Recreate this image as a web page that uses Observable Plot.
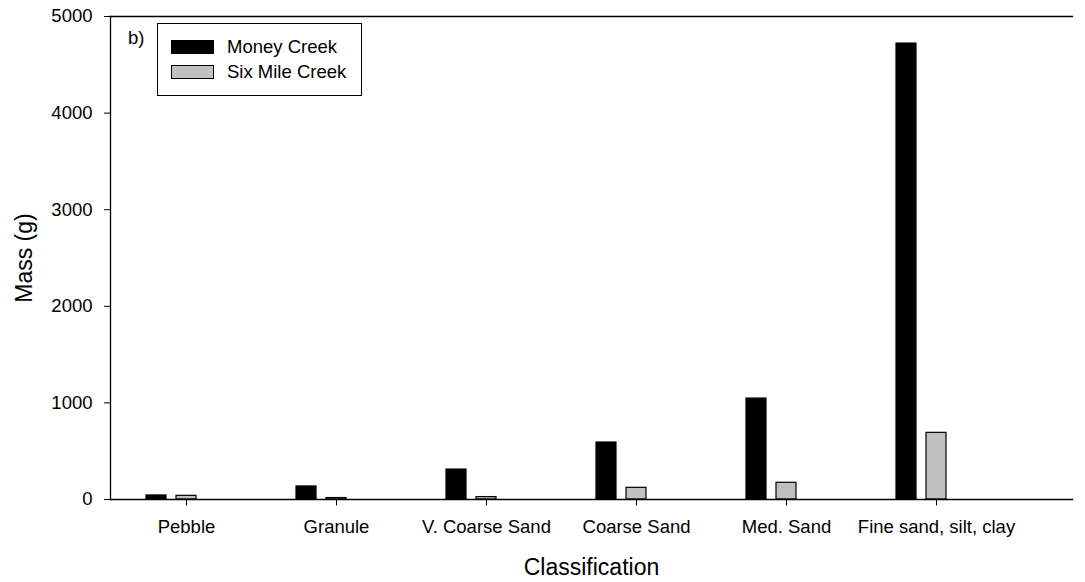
<!DOCTYPE html>
<html>
<head>
<meta charset="utf-8">
<script src="https://cdn.jsdelivr.net/npm/d3@7"></script>
<script src="https://cdn.jsdelivr.net/npm/@observablehq/plot@0.6"></script>
<style>
  html, body { margin: 0; padding: 0; background: #fff; }
  #wrap { position: relative; width: 1085px; height: 582px; font-family: "Liberation Sans", Arial, sans-serif; }
  #legend { position: absolute; left: 157px; top: 23px; width: 203px; height: 71px; border: 1.4px solid #000; background: #fff; }
  .row { position: absolute; left: 13px; height: 16px; display: flex; align-items: center; font-size: 18.5px; color: #000; white-space: nowrap; }
  .sw { width: 41px; height: 12px; border: 1.3px solid #000; margin-right: 13px; }
  #tag { position: absolute; left: 128px; top: 27px; font-size: 18.5px; color: #000; }
</style>
</head>
<body>
<div id="wrap"></div>
<script>
const categories = ["Pebble", "Granule", "V. Coarse Sand", "Coarse Sand", "Med. Sand", "Fine sand, silt, clay"];
const moneyCreek = [42, 135, 310, 590, 1045, 4720];
const sixMileCreek = [38, 15, 25, 121, 173, 690];
const seriesNames = ["Money Creek", "Six Mile Creek"];
const seriesFill = ["#000000", "#c0c0c0"];
const yTicks = [0, 1000, 2000, 3000, 4000, 5000];

// five slots per category: gap, Money Creek, Six Mile Creek, empty, gap
const slotNames = ["a", "M", "S", "b", "c"];
const slots = categories.flatMap(c => slotNames.map(s => c + "|" + s));
const rows = [];
categories.forEach((c, i) => {
  rows.push({key: c + "|M", series: seriesNames[0], value: moneyCreek[i]});
  rows.push({key: c + "|S", series: seriesNames[1], value: sixMileCreek[i]});
});
const tickKeys = categories.map(c => c + "|S");

const left = 109.8, step = 30.08;
const chart = Plot.plot({
  width: 1085,
  height: 582,
  marginLeft: 110,
  marginRight: 13,
  marginTop: 16,
  marginBottom: 83,
  style: {fontFamily: "'Liberation Sans', Arial, sans-serif", color: "#000", background: "#fff"},
  x: {type: "band", domain: slots, range: [left, left + step * slots.length], paddingInner: 0.35, paddingOuter: 0.175},
  y: {domain: [0, 5000]},
  color: {domain: seriesNames, range: seriesFill},
  marks: [
    Plot.barY(rows, {x: "key", y: "value", fill: "series", stroke: "#000", strokeWidth: 1.2}),
    Plot.frame({anchor: "left", stroke: "#000", strokeWidth: 1.3}),
    Plot.frame({anchor: "top", stroke: "#000", strokeWidth: 1.3}),
    Plot.frame({anchor: "bottom", stroke: "#000", strokeWidth: 1.3}),
    Plot.axisY({ticks: yTicks, tickSize: 6, tickPadding: 12, fontSize: 18.5, label: null, tickFormat: d => String(d), stroke: "#000"}),
    Plot.axisX({ticks: tickKeys, tickSize: 6.5, tickPadding: 14, fontSize: 18.5, label: null, tickFormat: k => k.split("|")[0], stroke: "#000"}),
    Plot.text(["Mass (g)"], {frameAnchor: "left", dx: -86, rotate: -90, textAnchor: "middle", lineAnchor: "middle", fontSize: 23, fill: "#000"}),
    Plot.text(["Classification"], {frameAnchor: "bottom", dy: 68, textAnchor: "middle", lineAnchor: "middle", fontSize: 23, fill: "#000"})
  ]
});
const wrap = document.getElementById("wrap");
wrap.appendChild(chart);

const tag = document.createElement("div");
tag.id = "tag"; tag.textContent = "b)";
wrap.appendChild(tag);

const legend = document.createElement("div");
legend.id = "legend";
seriesNames.forEach((name, i) => {
  const r = document.createElement("div");
  r.className = "row";
  r.style.top = (15 + i * 25) + "px";
  const sw = document.createElement("div");
  sw.className = "sw";
  sw.style.background = seriesFill[i];
  r.appendChild(sw);
  r.appendChild(document.createTextNode(name));
  legend.appendChild(r);
});
wrap.appendChild(legend);
</script>
</body>
</html>
